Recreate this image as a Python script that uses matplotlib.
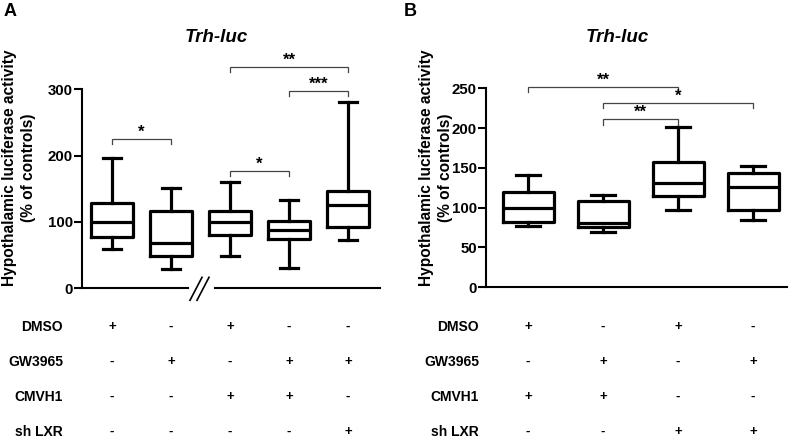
import numpy as np
import matplotlib
matplotlib.use("Agg")
import matplotlib.pyplot as plt
import matplotlib.transforms as mtransforms

plt.rcParams['font.family'] = ['Liberation Sans', 'DejaVu Sans']
plt.rcParams['font.weight'] = 'bold'

# ---- data, panel A ----
a_whishi = [197, 151, 161, 133, 281]
a_q3 = [128, 116, 117, 101, 146]
a_med = [100, 68, 100, 88, 125]
a_q1 = [77, 48, 80, 74, 93]
a_whislo = [59, 29, 48, 31, 73]
a_rows = ["DMSO", "GW3965", "CMVH1", "sh LXR"]
a_signs = [["+", "-", "+", "-", "-"],
           ["-", "+", "-", "+", "+"],
           ["-", "-", "+", "+", "-"],
           ["-", "-", "-", "-", "+"]]
# (group i, group j, bracket height, label)
a_brackets = [(1, 2, 225, "*"), (3, 4, 177, "*"), (4, 5, 298, "***"), (3, 5, 334, "**")]

# ---- data, panel B ----
b_whishi = [141, 116, 202, 153]
b_q3 = [120, 108, 158, 143]
b_med = [99, 81, 131, 126]
b_q1 = [82, 76, 115, 97]
b_whislo = [77, 69, 97, 85]
b_signs = [["+", "-", "+", "-"],
           ["-", "+", "-", "+"],
           ["+", "+", "-", "-"],
           ["-", "-", "+", "+"]]
b_brackets = [(1, 3, 252, "**"), (2, 4, 232, "*"), (2, 3, 211, "**")]

W, H = 795, 440
fig = plt.figure(figsize=(W / 100, H / 100), dpi=100)


def px_axes(x0, x1, ytop, ybot):
    return fig.add_axes([x0 / W, 1 - ybot / H, (x1 - x0) / W, (ybot - ytop) / H])


def draw_panel(ax, whishi, q3, med, q1, whislo, width, capw):
    stats = []
    for i in range(len(med)):
        stats.append(dict(med=med[i], q1=q1[i], q3=q3[i], whislo=whislo[i], whishi=whishi[i], fliers=[]))
    lw = 2.3
    ax.bxp(stats, positions=np.arange(1, len(med) + 1), widths=width, showfliers=False,
           capwidths=capw,
           boxprops=dict(color='black', linewidth=lw),
           medianprops=dict(color='black', linewidth=lw),
           whiskerprops=dict(color='black', linewidth=lw),
           capprops=dict(color='black', linewidth=lw))
    for s in ['top', 'right']:
        ax.spines[s].set_visible(False)
    ax.spines['left'].set_linewidth(1.5)
    ax.spines['bottom'].set_linewidth(1.5)
    ax.set_xticks([])
    ax.tick_params(axis='y', direction='out', length=5.5, width=1.5, labelsize=10.8, pad=1)
    for t in ax.get_yticklabels():
        t.set_fontweight('bold')


def draw_brackets(ax, brackets, drop):
    for i, j, h, lab in brackets:
        ax.plot([i, i, j, j], [h - drop, h, h, h - drop], color='#444444', lw=0.9,
                clip_on=False, solid_joinstyle='miter')
        ax.text((i + j) / 2, h - 1, lab, ha='center', va='bottom', fontsize=12, fontweight='bold')


def draw_table(ax, rows, signs, label_x_px):
    trans = mtransforms.blended_transform_factory(ax.transData, fig.transFigure)
    row_y = [327, 362, 397, 432]
    for r, name in enumerate(rows):
        fig.text(label_x_px / W, 1 - row_y[r] / H, name, ha='right', va='center',
                 fontsize=10, fontweight='bold')
        for c, s in enumerate(signs[r]):
            ax.text(c + 1, 1 - row_y[r] / H, s, transform=trans, ha='center', va='center',
                    fontsize=9.5, fontweight='bold')


# ---- panel A ----
axA = px_axes(82, 380, 40, 288.3)
a_scale = 199.0 / 300
axA.set_ylim(0, 248.3 / a_scale)
axA.set_xlim(1 - 30 / 59, 5 + 32 / 59)
draw_panel(axA, a_whishi, a_q3, a_med, a_q1, a_whislo, 0.71, 0.31)
axA.spines['left'].set_bounds(0, 300)
axA.set_yticks([0, 100, 200, 300])
axA.spines['bottom'].set_visible(False)
# broken x axis
axA.plot([axA.get_xlim()[0], 1 + 76 / 59], [0, 0], color='black', lw=1.5, clip_on=False)
axA.plot([1 + 103 / 59, axA.get_xlim()[1]], [0, 0], color='black', lw=1.5, clip_on=False)
for dx in [0, 7]:
    x0 = 1 + (190 + dx - 112) / 59
    x1 = 1 + (202 + dx - 112) / 59
    axA.plot([x0, x1], [-12 / a_scale, 11 / a_scale], color='black', lw=1.2, clip_on=False)
draw_brackets(axA, a_brackets, 8)
draw_table(axA, a_rows, a_signs, 63)
fig.text(19 / W, 1 - 168 / H, "Hypothalamic luciferase activity\n(% of controls)", rotation=90,
         ha='center', va='center', fontsize=11.2, fontweight='bold', linespacing=1.3)
fig.text(216 / W, 1 - 37 / H, "Trh-luc", ha='center', va='center', fontsize=13.5,
         fontweight='bold', fontstyle='italic')
fig.text(4 / W, 1 - 12 / H, "A", ha='left', va='center', fontsize=13, fontweight='bold')

# ---- panel B ----
axB = px_axes(486, 787, 40, 287.3)
b_scale = 199.0 / 250
axB.set_ylim(0, 247.3 / b_scale)
axB.set_xlim(1 - 42 / 75, 4 + 34 / 75)
draw_panel(axB, b_whishi, b_q3, b_med, b_q1, b_whislo, 0.68, 0.33)
axB.spines['left'].set_bounds(0, 250)
axB.set_yticks([0, 50, 100, 150, 200, 250])
draw_brackets(axB, b_brackets, 7)
draw_table(axB, a_rows, b_signs, 479)
fig.text(436 / W, 1 - 168 / H, "Hypothalamic luciferase activity\n(% of controls)", rotation=90,
         ha='center', va='center', fontsize=11.2, fontweight='bold', linespacing=1.3)
fig.text(617 / W, 1 - 37 / H, "Trh-luc", ha='center', va='center', fontsize=13.5,
         fontweight='bold', fontstyle='italic')
fig.text(404 / W, 1 - 12 / H, "B", ha='left', va='center', fontsize=13, fontweight='bold')

fig.savefig("out.png", dpi=100)
